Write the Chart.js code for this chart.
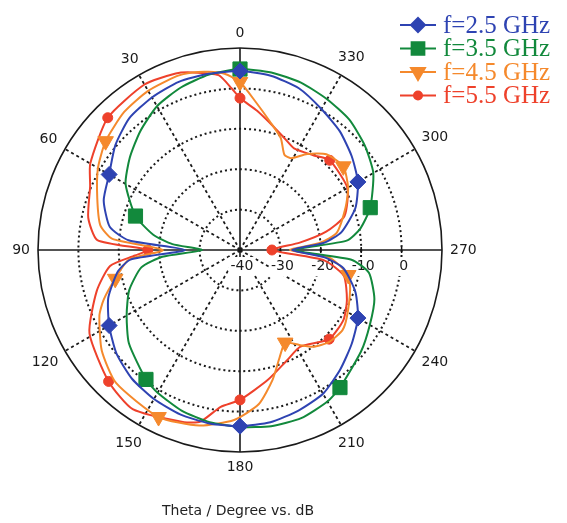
<!DOCTYPE html>
<html>
<head>
<meta charset="utf-8">
<script src="https://cdn.jsdelivr.net/npm/chart.js@4.4.1/dist/chart.umd.min.js"></script>
<style>
  html, body { margin: 0; padding: 0; background: #fff; }
  #wrap { width: 567px; height: 523px; }
</style>
</head>
<body>
<div id="wrap"><canvas id="polarChart" width="567" height="523"></canvas></div>
<script>
// theta in degrees, counter-clockwise from the top (0 = up, 90 = left), gain in dB
const theta25 = [0,10,20,30,40,50,60,70,80,85,90,95,100,110,120,130,140,150,160,170,180,190,200,210,220,230,240,250,260,265,270,275,280,290,300,310,320,330,340,350];
const gain25 = [4.3,4.3,4.3,3.6,2.6,0.3,-2.6,-4.1,-7.3,-12.3,-26.4,-12.8,-9.3,-5.3,-2.6,-0.1,1.6,2.6,3.3,3.6,3.6,3.3,2.3,1.1,-1.4,-3.9,-6.3,-9.6,-14.0,-19.0,-27.1,-19.0,-14.5,-9.6,-6.3,-3.9,-1.6,0.3,2.6,3.8];

const theta35 = [0,10,20,30,40,50,60,72,80,85,90,95,100,110,120,130,144,150,160,170,180,190,200,210,216,230,240,250,260,265,270,275,280,288,300,310,320,330,340,350];
const gain35 = [4.8,4.1,2.8,1.1,-1.6,-4.4,-7.3,-12.8,-18.2,-23.2,-30.6,-20.7,-15.2,-10.8,-7.6,-4.1,-0.4,0.8,2.3,3.3,3.8,4.3,4.3,3.3,2.1,-0.9,-2.9,-4.6,-7.6,-12.3,-26.4,-13.5,-9.8,-6.1,-1.9,0.3,2.1,3.1,4.1,4.6];

const theta45 = [0,5,10,15,20,30,40,51,60,70,80,85,90,95,103,110,115,126,137,154,167,178,187,194,200,206,212,217,224,232,238,250,257,265,270,275,280,292,300,309,318,325,331,335,340,347,354];
const gain45 = [1.6,3.8,4.8,5.5,5.8,5.5,4.6,2.8,0.6,-2.4,-4.9,-8.3,-20.9,-12.3,-8.3,-4.1,-1.6,2.3,5.0,6.0,4.6,2.1,-1.6,-6.8,-11.5,-14.5,-12.3,-10.0,-8.3,-7.8,-8.8,-11.0,-12.5,-17.7,-27.6,-20.2,-15.7,-11.8,-9.1,-7.1,-8.1,-11.0,-14.0,-14.0,-10.5,-7.3,-3.1];

const theta55 = [0,3,7,15,20,30,45,60,67,78,86,90,93,97,106,119,135,146,162,167,173,180,192,203,212,225,236,245,256,263,270,277,282,288,300,315,322,332,338,345,353];
const gain55 = [-2.4,0.1,3.6,5.5,6.5,7.3,6.3,2.8,0.3,-1.6,-4.6,-17.2,-14.0,-7.6,-3.1,2.6,6.0,7.5,4.8,3.6,-0.9,-2.9,-7.1,-10.3,-11.8,-8.8,-9.1,-10.8,-13.5,-19.0,-32.1,-25.1,-18.2,-12.8,-9.3,-8.6,-10.3,-11.5,-10.3,-8.3,-5.3];

// where the markers sit on each curve
const marks25 = [0,60,120,180,240,300];
const marks35 = [0,72,144,216,288];
const marks45 = [0,51,103,154,206,257,309];
const marks55 = [0,45,90,135,180,225,270,315];

const seriesNames = ["f=2.5 GHz", "f=3.5 GHz", "f=4.5 GHz", "f=5.5 GHz"];
const seriesColors = ["#2e43b2", "#12893c", "#f5892c", "#ee412b"];
const ringTicks = [-40, -30, -20, -10, 0];
const angleTicks = [0, 30, 60, 90, 120, 150, 180, 210, 240, 270, 300, 330];

// one category per degree; radar goes clockwise so theta runs backwards
const thetaLabels = Array.from({length: 360}, (_, i) => (360 - i) % 360);
const idx = t => (360 - t) % 360;

function toRadar(thetas, gains) {
    const out = new Array(360).fill(null);
    thetas.forEach((t, k) => { out[idx(t)] = gains[k]; });
    return out;
}

const styles = [
    { pointStyle: "rectRot", radius: 8, rotation: 0, marks: marks25 },
    { pointStyle: "rect", radius: 10, rotation: 0, marks: marks35 },
    { pointStyle: "triangle", radius: 9, rotation: 180, marks: marks45 },
    { pointStyle: "circle", radius: 5, rotation: 0, marks: marks55 }
];
const seriesData = [toRadar(theta25, gain25), toRadar(theta35, gain35), toRadar(theta45, gain45), toRadar(theta55, gain55)];

const datasets = seriesNames.map((name, k) => ({
    label: name,
    data: seriesData[k],
    borderColor: seriesColors[k],
    backgroundColor: seriesColors[k],
    borderWidth: 2,
    fill: false,
    spanGaps: true,
    tension: 0.2,
    pointStyle: styles[k].pointStyle,
    pointRotation: styles[k].rotation,
    pointBorderColor: seriesColors[k],
    pointBorderWidth: 1,
    pointRadius: c => styles[k].marks.includes(thetaLabels[c.dataIndex]) ? styles[k].radius : 0
}));

const polarDecor = {
    id: "polarDecor",
    beforeDatasetsDraw(chart) {
        const r = chart.scales.r;
        const ctx = chart.ctx;
        ctx.save();
        ctx.strokeStyle = "#111";
        ctx.lineWidth = 1.5;
        ringTicks.slice(1).forEach(v => {
            const x = r.xCenter + r.getDistanceFromCenterForValue(v);
            ctx.beginPath();
            ctx.moveTo(x, r.yCenter - 3);
            ctx.lineTo(x, r.yCenter + 3);
            ctx.stroke();
        });
        ctx.font = "14px 'DejaVu Sans'";
        ctx.textAlign = "center";
        ctx.textBaseline = "middle";
        ringTicks.forEach(v => {
            const x = r.xCenter + r.getDistanceFromCenterForValue(v) + 2;
            const y = r.yCenter + 16;
            const w = ctx.measureText(String(v)).width;
            ctx.fillStyle = "#fff";
            ctx.fillRect(x - w / 2 - 2, y - 9, w + 4, 19);
            ctx.fillStyle = "#1a1a1a";
            ctx.fillText(String(v), x, y);
        });
        // angle labels sit just outside the rim, pushed out by their own size
        angleTicks.forEach(t => {
            const w = ctx.measureText(String(t)).width;
            const a = t * Math.PI / 180;
            const gap = 8 + Math.abs(Math.sin(a)) * w / 2 + Math.abs(Math.cos(a)) * 7;
            const p = r.getPointPosition(idx(t), r.drawingArea + gap);
            ctx.fillText(String(t), p.x, p.y);
        });
        ctx.restore();
    },
    afterDraw(chart) {
        const ctx = chart.ctx;
        ctx.save();
        seriesNames.forEach((name, k) => {
            const y = 25 + k * 23.5;
            ctx.strokeStyle = seriesColors[k];
            ctx.fillStyle = seriesColors[k];
            ctx.lineWidth = 2;
            ctx.beginPath();
            ctx.moveTo(400, y);
            ctx.lineTo(436, y);
            ctx.stroke();
            Chart.helpers.drawPoint(ctx, {
                pointStyle: styles[k].pointStyle,
                radius: styles[k].radius - 1,
                rotation: styles[k].rotation,
                borderWidth: 1
            }, 418, y);
            ctx.font = "25px 'Liberation Serif'";
            ctx.textAlign = "left";
            ctx.textBaseline = "middle";
            ctx.fillText(name, 443, y + 1);
        });
        ctx.font = "14px 'DejaVu Sans'";
        ctx.textAlign = "center";
        ctx.fillStyle = "#222";
        ctx.fillText("Theta / Degree vs. dB", 238, 511);
        ctx.restore();
    }
};

new Chart(document.getElementById("polarChart"), {
    type: "radar",
    data: { labels: thetaLabels, datasets: datasets },
    options: {
        responsive: false,
        animation: false,
        devicePixelRatio: 1,
        events: [],
        layout: { padding: { left: 38, top: 48, right: 125, bottom: 71 } },
        plugins: { legend: { display: false }, tooltip: { enabled: false } },
        scales: {
            r: {
                min: -40,
                max: 10,
                startAngle: 0,
                ticks: { display: false, stepSize: 10 },
                grid: {
                    circular: true,
                    color: "#1a1a1a",
                    lineWidth: c => (c.tick && c.tick.value === 10) ? 1.6 : 2
                },
                border: {
                    dash: c => (c.tick && c.tick.value === 10) ? [] : [2, 3]
                },
                angleLines: {
                    color: "#1a1a1a",
                    lineWidth: c => thetaLabels[c.index] % 90 === 0 ? 1.6 : (thetaLabels[c.index] % 30 === 0 ? 1.8 : 0),
                    borderDash: c => thetaLabels[c.index] % 90 === 0 ? [] : [3, 3]
                },
                pointLabels: { display: false }
            }
        }
    },
    plugins: [polarDecor]
});
</script>
</body>
</html>
